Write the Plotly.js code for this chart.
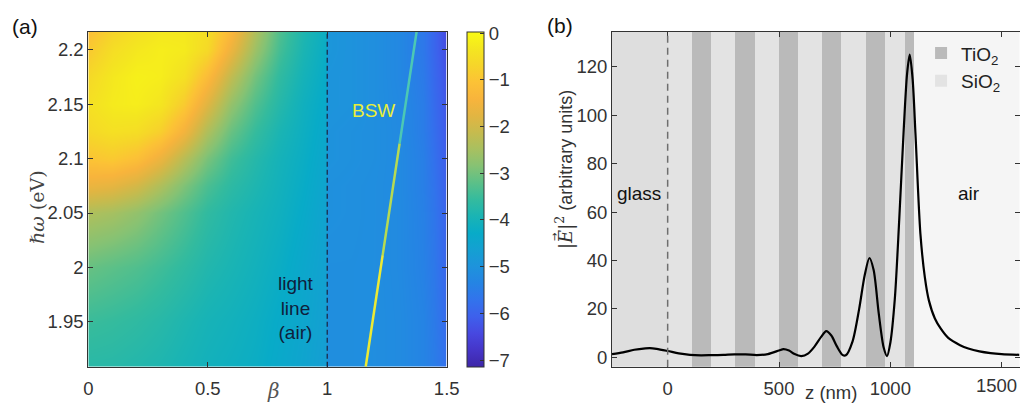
<!DOCTYPE html>
<html><head><meta charset="utf-8">
<script src="https://cdn.plot.ly/plotly-3.0.1.min.js"></script>
<style>html,body{margin:0;padding:0;background:#fff;} #chart{width:1020px;height:403px;}</style>
</head><body><div id="chart"></div>
<script>
// ---------- panel (a): log10 intensity map ----------
const betaGrid = [0,0.1,0.2,0.3,0.4,0.5,0.6,0.7,0.8,0.9,0.999,1.001,1.1,1.2,1.3,1.4,1.45,1.5];
const hwGrid = [1.9086,1.95,2.0,2.05,2.075,2.1,2.125,2.15,2.175,2.2,2.2168];
const logIntensity = [
  [-3.7,-3.72,-3.78,-3.85,-3.95,-4.05,-4.12,-4.2,-4.35,-4.5,-4.7,-5.1,-5.1,-5.12,-5.18,-5.35,-5.5,-5.75],
  [-3.5,-3.55,-3.62,-3.72,-3.85,-3.97,-4.05,-4.15,-4.3,-4.45,-4.65,-5.1,-5.1,-5.12,-5.18,-5.35,-5.55,-5.85],
  [-3.1,-3.2,-3.3,-3.45,-3.62,-3.8,-3.92,-4.05,-4.2,-4.4,-4.6,-5.1,-5.1,-5.12,-5.2,-5.4,-5.6,-5.95],
  [-2.4,-2.5,-2.7,-3.0,-3.3,-3.6,-3.8,-3.95,-4.1,-4.3,-4.55,-5.05,-5.08,-5.12,-5.2,-5.42,-5.65,-6.0],
  [-1.6,-1.7,-1.95,-2.4,-2.9,-3.35,-3.65,-3.85,-4.05,-4.25,-4.5,-5.05,-5.08,-5.12,-5.2,-5.45,-5.7,-6.05],
  [-1.0,-0.9,-1.1,-1.6,-2.3,-2.95,-3.45,-3.75,-4.0,-4.2,-4.45,-5.0,-5.05,-5.1,-5.2,-5.45,-5.75,-6.1],
  [-0.6,-0.45,-0.5,-0.8,-1.5,-2.4,-3.1,-3.55,-3.9,-4.15,-4.4,-5.0,-5.05,-5.1,-5.2,-5.5,-5.8,-6.15],
  [-0.45,-0.25,-0.2,-0.35,-0.9,-1.8,-2.7,-3.3,-3.75,-4.1,-4.35,-4.95,-5.0,-5.1,-5.22,-5.5,-5.85,-6.2],
  [-0.6,-0.3,-0.15,-0.2,-0.45,-1.2,-2.2,-3.0,-3.6,-4.0,-4.3,-4.95,-5.0,-5.1,-5.25,-5.55,-5.9,-6.25],
  [-0.9,-0.5,-0.3,-0.2,-0.25,-0.6,-1.6,-2.6,-3.4,-3.9,-4.25,-4.9,-5.0,-5.1,-5.25,-5.6,-5.95,-6.35],
  [-1.1,-0.7,-0.45,-0.3,-0.3,-0.5,-1.3,-2.4,-3.3,-3.85,-4.2,-4.9,-5.0,-5.1,-5.25,-5.6,-5.95,-6.4]
];
const bswBeta = [1.161, 1.232, 1.303, 1.374];
const bswHw = [1.9086, 2.0113, 2.1141, 2.2168];
const lightLineBeta = 1;
const cbTicks = [-7,-6,-5,-4,-3,-2,-1,0];

// ---------- panel (b): field profile ----------
const zPos = [-250,-200,-150,-100,-80,-50,0,50,100,150,200,250,300,350,400,450,500,520,545,570,600,630,660,690,712,735,760,785,800,830,860,885,906,925,948,970,985,1000,1020,1040,1060,1075,1087,1100,1113,1135,1155,1173,1200,1225,1260,1313,1350,1400,1450,1500,1580];
const fieldE2 = [1.3,2.0,3.1,3.7,3.8,3.5,2.6,1.6,1.0,0.8,0.9,1.0,1.2,1.2,0.9,1.3,2.8,3.4,2.8,1.3,0.5,1.5,4.5,8.5,10.8,9.0,4.5,1.0,0.8,6.5,20,34,41,36,18,4,0.5,6,24,57,94,117,125,115,92,51,33,23.5,16,12,8,5.0,3.6,2.4,1.7,1.3,1.0];
const tio2Start = [108,304,500,695,891,1067];
const tio2End   = [193,390,585,780,976,1108];
const sio2Span  = [0,1108];
const glassSpan = [-300,0];
const airSpan   = [1108,1700];
const glassInterface = 0;
const zTicks = [0,500,1000,1500];
const zTickText = ['0','500','1000',''];   // last label drawn as right-aligned text below
const zLastTick = '1500';

const parula = [
 [0.0,'#3e26a8'],[0.05,'#4535c8'],[0.1,'#4748e0'],[0.15,'#3e60ec'],[0.2,'#3273ec'],[0.25,'#2584e4'],
 [0.3,'#1e93dc'],[0.35,'#14a0d2'],[0.4,'#08abc8'],[0.45,'#1ab4b4'],[0.5,'#34bb9e'],[0.55,'#5cc088'],
 [0.6,'#86c274'],[0.65,'#a8c060'],[0.7,'#c6bb4e'],[0.75,'#e2b542'],[0.8,'#f8b43c'],[0.85,'#fcc236'],
 [0.9,'#f6d52a'],[0.95,'#f4e620'],[1.0,'#f9fa14']
];

const FONT = 'Liberation Sans, Arial, sans-serif';
const SERIF = 'DejaVu Serif, Liberation Serif, serif';
const AX = '#333333';

const spanBar = (s, e, name, color, show, rank) => ({
  type:'bar', xaxis:'x2', yaxis:'y2', name:name, showlegend:show, legendrank:rank,
  x: s.map((v,i)=>(v+e[i])/2), width: s.map((v,i)=>e[i]-v),
  y: s.map(()=>200), base: s.map(()=>-20),
  marker:{color:color, line:{width:0}}, hoverinfo:'skip'
});

const bswColors = ['#ecea34','#b6da52','#4cc8b4'];
const bswTraces = bswColors.map((c,i)=>({
  type:'scatter', mode:'lines', xaxis:'x', yaxis:'y', showlegend:false,
  x:[bswBeta[i], bswBeta[i+1]], y:[bswHw[i], bswHw[i+1]],
  line:{color:c, width:2.5}, hoverinfo:'skip'
}));

const traces = [
  {type:'heatmap', x:betaGrid, y:hwGrid, z:logIntensity, zsmooth:'best',
   colorscale:parula, zmin:-7.14, zmax:0.03, showlegend:false,
   colorbar:{x:466.7/1020, xanchor:'left', xref:'paper', y:36.3/403, yanchor:'bottom',
     len:335/403, lenmode:'fraction', thickness:17, thicknessmode:'pixels',
     xpad:0, ypad:0, outlinewidth:1, outlinecolor:AX,
     tickmode:'array', tickvals:cbTicks, ticks:'inside', ticklen:4, tickcolor:AX,
     tickfont:{family:FONT, size:18.5, color:AX}}},
  ...bswTraces,
  spanBar([sio2Span[0]],[sio2Span[1]],'SiO<sub>2</sub>','#e3e3e3',true,2),
  spanBar([glassSpan[0]],[glassSpan[1]],'glass','#dedede',false,3),
  spanBar([airSpan[0]],[airSpan[1]],'air','#f5f5f5',false,4),
  spanBar(tio2Start,tio2End,'TiO<sub>2</sub>','#bababa',true,1),
  {type:'scatter', mode:'lines', xaxis:'x2', yaxis:'y2', x:zPos, y:fieldE2, showlegend:false,
   line:{color:'#000', width:2.2, shape:'spline', smoothing:0.8}, hoverinfo:'skip'}
];

const axCommon = {showline:true, linecolor:AX, linewidth:1, mirror:'ticks', ticks:'inside',
  ticklen:5, tickcolor:AX, showgrid:false, zeroline:false,
  tickfont:{family:FONT, size:18.5, color:AX}, fixedrange:true};

const yDom = [36.3/403, 371.3/403];
const layout = {
  width:1020, height:403, margin:{l:0,r:0,t:0,b:0},
  paper_bgcolor:'#fff', plot_bgcolor:'#fff', barmode:'overlay', bargap:0,
  showlegend:true,
  legend:{x:0.903, y:0.915, xanchor:'left', yanchor:'top', bgcolor:'rgba(0,0,0,0)',
    font:{family:FONT, size:19, color:'#222'}, traceorder:'normal'},
  xaxis:{...axCommon, domain:[88.3/1020, 446.7/1020], range:[0,1.5], tickvals:[0,0.5,1,1.5], anchor:'y', ticklabelstandoff:5},
  yaxis:{...axCommon, domain:yDom, range:[1.9086,2.2168], tickvals:[1.95,2,2.05,2.1,2.15,2.2], anchor:'x'},
  xaxis2:{...axCommon, domain:[0.6, 1019.5/1020], range:[-250,1580], tickvals:zTicks, ticktext:zTickText, anchor:'y2', ticklabelstandoff:5},
  yaxis2:{...axCommon, domain:yDom, range:[-3.9,134.5], tickvals:[0,20,40,60,80,100,120], anchor:'x2'},
  shapes:[
    {type:'line', xref:'x', yref:'y domain', x0:lightLineBeta, x1:lightLineBeta, y0:0, y1:1,
     line:{color:'#1c2b4a', width:1.3, dash:'5px,3px'}, layer:'above'},
    {type:'line', xref:'x2', yref:'y2 domain', x0:glassInterface, x1:glassInterface, y0:0, y1:1,
     line:{color:'#6e6e6e', width:1.5, dash:'7px,5px'}, layer:'above'}
  ],
  annotations:[
    {xref:'paper', yref:'paper', x:1019/1020, y:(403-385)/403, xanchor:'right', yanchor:'middle', showarrow:false,
     text:zLastTick, font:{family:FONT, size:18.5, color:AX}},
    {xref:'paper', yref:'paper', x:10/1020, y:(403-26)/403, xanchor:'left', yanchor:'middle', showarrow:false,
     text:'(a)', font:{family:FONT, size:21, color:'#111'}},
    {xref:'paper', yref:'paper', x:545/1020, y:(403-25)/403, xanchor:'left', yanchor:'middle', showarrow:false,
     text:'(b)', font:{family:FONT, size:21, color:'#111'}},
    {xref:'paper', yref:'paper', x:273/1020, y:(403-391)/403, xanchor:'center', yanchor:'middle', showarrow:false,
     text:'<i>β</i>', font:{family:SERIF, size:20, color:'#555'}},
    {xref:'paper', yref:'paper', x:37/1020, y:(403-207)/403, xanchor:'center', yanchor:'middle', showarrow:false,
     textangle:-90, text:'<i>ℏω</i> (eV)', font:{family:SERIF, size:19, color:'#444'}},
    {xref:'paper', yref:'paper', x:831/1020, y:(403-392)/403, xanchor:'center', yanchor:'middle', showarrow:false,
     text:'z (nm)', font:{family:FONT, size:18.5, color:AX}},
    {xref:'paper', yref:'paper', x:564/1020, y:(403-170)/403, xanchor:'center', yanchor:'middle', showarrow:false,
     textangle:-90, text:'<span style="font-family:DejaVu Serif, serif">|<i>E</i>|<sup>2</sup></span> (arbitrary units)',
     font:{family:FONT, size:18, color:AX}},
    {xref:'paper', yref:'paper', x:554/1020, y:(403-237)/403, xanchor:'center', yanchor:'middle', showarrow:false,
     textangle:-90, text:'→', font:{family:'DejaVu Sans, sans-serif', size:10, color:AX}},
    {xref:'x', yref:'y', x:0.871, y:1.9626, xanchor:'center', yanchor:'middle', showarrow:false,
     text:'light<br>line<br>(air)', font:{family:FONT, size:19, color:'#0f1e3c'}},
    {xref:'x', yref:'y', x:1.194, y:2.1443, xanchor:'center', yanchor:'middle', showarrow:false,
     text:'BSW', font:{family:FONT, size:19, color:'#e8ee3a'}},
    {xref:'x2', yref:'y2', x:-131, y:67.6, xanchor:'center', yanchor:'middle', showarrow:false,
     text:'glass', font:{family:FONT, size:19, color:'#111'}},
    {xref:'x2', yref:'y2', x:1353, y:67.6, xanchor:'center', yanchor:'middle', showarrow:false,
     text:'air', font:{family:FONT, size:19, color:'#111'}}
  ]
};

Plotly.newPlot('chart', traces, layout, {displayModeBar:false, staticPlot:true});
</script></body></html>
